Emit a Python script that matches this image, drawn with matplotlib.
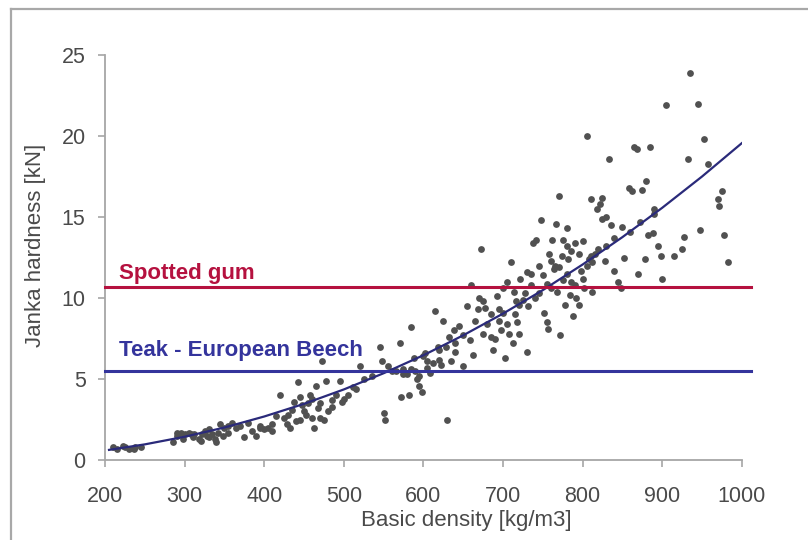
import matplotlib
matplotlib.use('Agg')
import matplotlib.pyplot as plt
from matplotlib.lines import Line2D

plt.rcParams['font.family'] = ['Liberation Sans', 'DejaVu Sans']

# measured samples: basic density [kg/m3] and Janka hardness [kN]
density = [210, 215, 222, 225, 230, 236, 238, 245, 285, 290, 290, 295, 298, 300, 305, 308,
           310, 312, 318, 320, 322, 325, 328, 330, 330, 335, 338, 340, 342, 345, 348, 350,
           355, 355, 360, 365, 370, 375, 380, 385, 390, 395, 395, 400, 405, 410, 410, 415,
           420, 425, 428, 430, 432, 435, 438, 440, 442, 445, 445, 448, 450, 452, 455, 458,
           460, 460, 462, 465, 468, 470, 470, 472, 475, 478, 480, 485, 485, 490, 495, 498,
           500, 505, 512, 515, 520, 525, 535, 545, 548, 550, 552, 555, 560, 565, 570, 572,
           575, 575, 580, 582, 585, 585, 588, 590, 592, 595, 595, 598, 600, 602, 605, 605,
           608, 612, 615, 618, 620, 620, 622, 625, 628, 630, 632, 635, 638, 640, 640, 645,
           650, 650, 655, 658, 660, 662, 665, 668, 670, 672, 675, 675, 678, 680, 685, 685,
           688, 690, 692, 695, 695, 698, 700, 700, 703, 705, 705, 707, 710, 712, 714, 715,
           716, 718, 720, 720, 722, 725, 728, 730, 730, 732, 735, 735, 738, 740, 742, 745,
           745, 748, 750, 752, 755, 755, 757, 758, 760, 760, 762, 764, 765, 766, 768, 770,
           770, 772, 774, 775, 776, 778, 780, 780, 780, 782, 784, 785, 786, 788, 790, 790,
           792, 795, 795, 798, 800, 800, 802, 805, 805, 808, 810, 810, 812, 812, 815, 818,
           820, 822, 825, 825, 828, 830, 830, 833, 836, 840, 840, 845, 848, 850, 852, 858,
           860, 862, 865, 868, 870, 872, 875, 878, 880, 882, 885, 888, 890, 890, 895, 898,
           900, 905, 915, 925, 928, 932, 935, 945, 948, 952, 958, 970, 972, 975, 978, 983]
hardness = [0.8, 0.7, 0.9, 0.8, 0.7, 0.7, 0.8, 0.8, 1.1, 1.5, 1.7, 1.7, 1.3, 1.6, 1.7, 1.6,
            1.4, 1.6, 1.3, 1.2, 1.6, 1.8, 1.5, 1.9, 1.4, 1.6, 1.3, 1.1, 1.7, 2.2, 1.5, 2.0,
            2.1, 1.7, 2.3, 2.0, 2.1, 1.4, 2.3, 1.8, 1.5, 2.1, 2.0, 1.9, 2.0, 1.8, 2.2, 2.7,
            4.0, 2.6, 2.2, 2.8, 2.0, 3.1, 3.6, 2.4, 4.8, 3.9, 2.5, 3.4, 3.0, 2.8, 3.5, 4.0,
            2.6, 3.8, 2.0, 4.6, 3.2, 2.6, 3.5, 6.1, 2.5, 4.9, 3.0, 3.3, 3.7, 4.0, 4.9, 3.6,
            3.8, 4.0, 4.5, 4.4, 5.8, 5.0, 5.2, 7.0, 6.1, 2.9, 2.5, 5.8, 5.5, 5.5, 7.2, 3.9,
            5.6, 5.3, 5.3, 4.0, 8.2, 5.6, 6.3, 5.5, 5.0, 4.6, 5.2, 4.2, 6.4, 6.6, 5.7, 6.1,
            5.4, 6.0, 9.2, 7.0, 6.2, 6.8, 5.9, 8.6, 7.0, 2.5, 7.6, 6.1, 8.0, 7.2, 6.7, 8.3,
            5.8, 7.7, 9.5, 7.4, 10.8, 6.5, 8.6, 9.3, 10.0, 13.0, 7.8, 9.8, 9.4, 8.4, 9.0, 7.6,
            6.8, 7.5, 10.1, 9.3, 8.6, 8.0, 9.1, 10.6, 6.3, 8.4, 11.0, 7.8, 12.2, 7.2, 10.4, 9.0,
            9.8, 8.5, 7.8, 9.6, 11.2, 9.9, 10.3, 6.7, 11.6, 9.5, 11.5, 10.8, 13.4, 10.0, 13.6, 12.0,
            10.3, 14.8, 11.4, 9.1, 8.5, 10.9, 8.1, 12.7, 12.3, 10.6, 13.6, 11.8, 12.0, 14.6, 10.4, 16.3,
            11.9, 7.7, 12.6, 13.6, 11.1, 9.6, 14.3, 11.5, 13.2, 12.4, 10.2, 12.9, 11.0, 8.9, 13.4, 10.8,
            10.0, 12.7, 9.6, 11.7, 13.5, 11.2, 10.6, 20.0, 12.0, 12.4, 16.1, 12.6, 10.4, 12.2, 12.7, 15.5,
            13.0, 15.8, 16.2, 14.9, 12.3, 15.0, 13.2, 18.6, 14.5, 13.7, 11.7, 11.0, 10.6, 14.4, 12.5, 16.8,
            14.1, 16.6, 19.3, 19.2, 11.5, 14.7, 16.7, 12.4, 17.2, 13.9, 19.3, 14.0, 15.2, 15.5, 13.2, 12.6,
            11.2, 21.9, 12.6, 13.0, 13.8, 18.6, 23.9, 22.0, 14.2, 19.8, 18.3, 16.1, 15.7, 16.6, 13.9, 12.2]

# fitted trend line
fit_density = [205, 250, 300, 350, 400, 450, 500, 550, 600, 650, 700, 750, 800, 850, 900, 950, 1000]
fit_hardness = [0.63, 0.97, 1.44, 2.01, 2.69, 3.47, 4.36, 5.36, 6.47, 7.70, 9.04, 10.49, 12.07, 13.76, 15.57, 17.50, 19.56]

# reference species
ref_names = ['Spotted gum', 'Teak - European Beech']
ref_values = [10.7, 5.5]
ref_label_y = [11.2, 6.43]
ref_colors = ['#b5113f', '#34349c']

fig = plt.figure(figsize=(8.08, 5.4), dpi=100)
ax = fig.add_axes([0.13, 0.148, 0.788, 0.75])

ax.scatter(density, hardness, s=24, color='#515151', linewidths=0, zorder=2)
ax.plot(fit_density, fit_hardness, color='#2a2a7a', lw=1.6, zorder=3)

for name, val, ty, col in zip(ref_names, ref_values, ref_label_y, ref_colors):
    ax.plot([200, 1012], [val, val], color=col, lw=2.2, clip_on=False, zorder=4)
    ax.text(217, ty, name, color=col, fontsize=16, fontweight='bold',
            va='baseline', ha='left')

ax.set_xlim(200, 1000)
ax.set_ylim(0, 25)
ax.set_xticks(range(200, 1001, 100))
ax.set_yticks(range(0, 26, 5))

for s in ['top', 'right']:
    ax.spines[s].set_visible(False)
for s in ['left', 'bottom']:
    ax.spines[s].set_color('#a6a6a6')
    ax.spines[s].set_linewidth(1.3)

ax.tick_params(colors='#a6a6a6', labelcolor='#4a4a4a', labelsize=15.5, length=5, width=1.2)
ax.tick_params(axis='x', pad=14)
ax.tick_params(axis='y', pad=9)
ax.set_xlabel('Basic density [kg/m3]', fontsize=16, color='#4a4a4a')
ax.xaxis.set_label_coords(0.568, -0.124)
ax.set_ylabel('Janka hardness [kN]', fontsize=16, color='#4a4a4a')
ax.yaxis.set_label_coords(-0.093, 0.53)

# picture frame round the chart
fig.add_artist(Line2D([11 / 808, 11 / 808], [0, 1 - 9 / 540], color='#a8a8a8', lw=1.6))
fig.add_artist(Line2D([11 / 808, 1], [1 - 9 / 540, 1 - 9 / 540], color='#a8a8a8', lw=1.6))

fig.savefig('out.png', dpi=100)
